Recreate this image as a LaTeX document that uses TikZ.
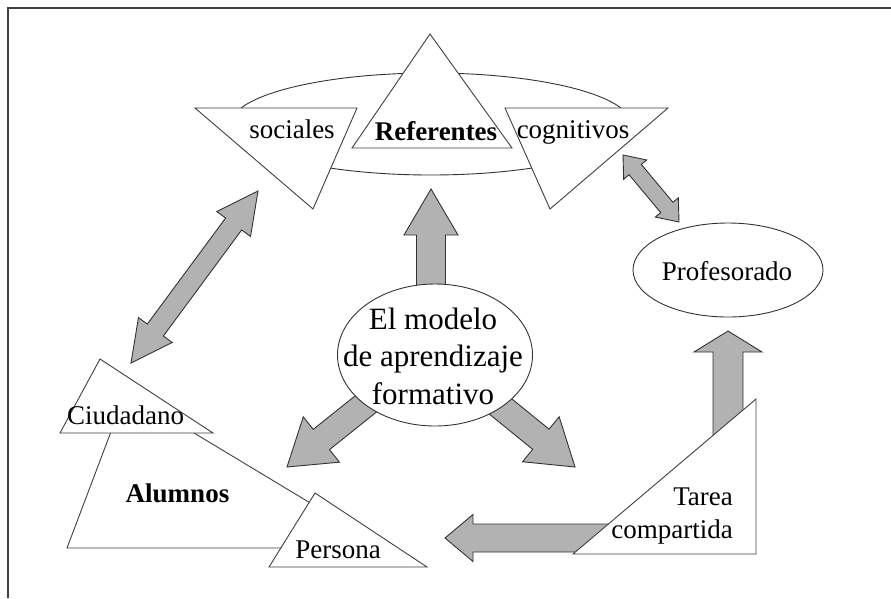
\documentclass[tikz,border=0pt]{standalone}
\usepackage{fontspec}
\setmainfont{Liberation Serif}
\usetikzlibrary{calc,shapes.geometric}
\tikzset{
  tri/.style={draw=black!75, fill=white, line width=0.9pt, line join=miter},
  fat/.style={draw=black!80, fill=black!30, line width=0.9pt, line join=miter},
  ell/.style={ellipse, draw=black!80, fill=white, line width=0.9pt, inner sep=0pt},
  lbl/.style={inner sep=0pt, font=\fontsize{27}{33}\selectfont},
}
% single fat arrow: #1 tail coord, #2 tip coord, #3 head length, #4 shaft half width, #5 head half width
\newcommand{\fatarrow}[5]{%
  \coordinate (#1@c) at ($(#2)!#3pt!(#1)$);
  \draw[fat] ($(#1)!#4pt!90:(#2)$) -- ($(#1@c)!#4pt!90:(#2)$) -- ($(#1@c)!#5pt!90:(#2)$) -- (#2)
    -- ($(#1@c)!#5pt!-90:(#2)$) -- ($(#1@c)!#4pt!-90:(#2)$) -- ($(#1)!#4pt!-90:(#2)$) -- cycle;
}
% double fat arrow
\newcommand{\dblarrow}[5]{%
  \coordinate (#1@a) at ($(#1)!#3pt!(#2)$);
  \coordinate (#1@b) at ($(#2)!#3pt!(#1)$);
  \draw[fat] (#1) -- ($(#1@a)!#5pt!90:(#2)$) -- ($(#1@a)!#4pt!90:(#2)$) -- ($(#1@b)!#4pt!90:(#2)$)
    -- ($(#1@b)!#5pt!90:(#2)$) -- (#2) -- ($(#1@b)!#5pt!-90:(#2)$) -- ($(#1@b)!#4pt!-90:(#2)$)
    -- ($(#1@a)!#4pt!-90:(#2)$) -- ($(#1@a)!#5pt!-90:(#2)$) -- cycle;
}
\begin{document}
\begin{tikzpicture}[x=1pt, y=-1pt]
\useasboundingbox[fill=white] (0,0) rectangle (891,598);
% frame
\draw[line width=1.4pt, black!75] (8,598) -- (8,8) -- (891,8);

% Referentes group
\node[ell, minimum width=400pt, minimum height=102pt] (refell) at (431,124) {};
\coordinate (s1) at (195,108); \coordinate (s2) at (357,108); \coordinate (s3) at (313,209);
\coordinate (c1) at (505,108); \coordinate (c2) at (668,108); \coordinate (c3) at (550,209);
\coordinate (r1) at (430,34);  \coordinate (r2) at (352,148); \coordinate (r3) at (512,148);
\draw[tri] (s1) -- (s2) -- (s3) -- cycle;
\draw[tri] (c1) -- (c2) -- (c3) -- cycle;
\draw[tri] (r1) -- (r2) -- (r3) -- cycle;
\node[lbl, anchor=base] (soc) at (292,138) {sociales};
\node[lbl, anchor=base, font=\fontsize{27}{33}\selectfont\bfseries] (ref) at (436,140) {Referentes};
\node[lbl, anchor=base] (cog) at (573,138) {cognitivos};

% Profesorado
\node[ell, minimum width=190pt, minimum height=94pt] (prof) at (728,270) {};
\node[lbl, anchor=base] (proft) at (727,280) {Profesorado};

% arrows
\coordinate (upA) at (431,300); \coordinate (upB) at (431,189);
\fatarrow{upA}{upB}{46}{14.5}{27}
\coordinate (llA) at (412,367); \coordinate (llB) at (287,467);
\fatarrow{llA}{llB}{44}{13}{29}
\coordinate (lrA) at (452,367); \coordinate (lrB) at (575,467);
\fatarrow{lrA}{lrB}{44}{13}{29}
\coordinate (dlA) at (258,191); \coordinate (dlB) at (131,363);
\dblarrow{dlA}{dlB}{41}{10}{21}
\coordinate (drA) at (623,155); \coordinate (drB) at (679,222);
\dblarrow{drA}{drB}{19}{8}{15}
\coordinate (prA) at (728,460); \coordinate (prB) at (728,331);
\fatarrow{prA}{prB}{21}{15}{34}
\coordinate (tpA) at (650,538); \coordinate (tpB) at (445,538);
\fatarrow{tpA}{tpB}{28}{14}{23.5}

% central ellipse
\node[ell, minimum width=195pt, minimum height=142pt] (cen) at (435,355) {};
\node[inner sep=0pt, align=center, font=\fontsize{31}{37.5}\selectfont] (cent) at (433,356)
  {El modelo\\de aprendizaje\\formativo};

% Alumnos group
\coordinate (a1) at (126,392); \coordinate (a2) at (67,548); \coordinate (a3) at (385,548);
\coordinate (ci1) at (100,359); \coordinate (ci2) at (60,433); \coordinate (ci3) at (213,433);
\coordinate (p1) at (315,493); \coordinate (p2) at (269,567); \coordinate (p3) at (427,567);
\draw[tri] (a1) -- (a2) -- (a3) -- cycle;
\draw[tri] (ci1) -- (ci2) -- (ci3) -- cycle;
\draw[tri] (p1) -- (p2) -- (p3) -- cycle;
\node[lbl, anchor=base] (ciu) at (125.5,424) {Ciudadano};
\node[lbl, anchor=base, font=\fontsize{27}{33}\selectfont\bfseries] (alu) at (177.5,502) {Alumnos};
\node[lbl, anchor=base] (per) at (338,558) {Persona};

% Tarea compartida
\coordinate (t1) at (756,399); \coordinate (t2) at (756,554); \coordinate (t3) at (573,554);
\draw[tri] (t1) -- (t2) -- (t3) -- cycle;
\node[lbl, anchor=base east] (tar1) at (733,505) {Tarea};
\node[lbl, anchor=base east] (tar2) at (733,538) {compartida};
\end{tikzpicture}
\end{document}
